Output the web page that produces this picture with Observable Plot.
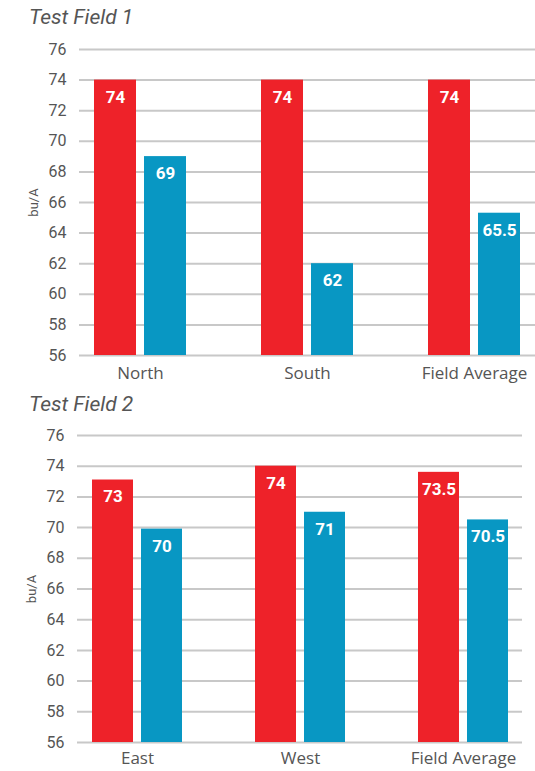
<!DOCTYPE html>
<html><head><meta charset="utf-8">
<script src="https://cdn.jsdelivr.net/npm/d3@7"></script>
<script src="https://cdn.jsdelivr.net/npm/@observablehq/plot@0.6"></script>
<style>
body{margin:0;background:#fff;font-family:Roboto,sans-serif;}
.title{font-style:italic;font-size:21px;color:#555;padding-left:29px;box-sizing:border-box;line-height:22px;}
</style></head><body>
<div class="title" style="height:38px;padding-top:6px">Test Field 1</div>
<div id="c1"></div>
<div class="title" style="height:32px;padding-top:1px">Test Field 2</div>
<div id="c2"></div>
<script>
const seriesNames = ["Series A", "Series B"];
const seriesColors = ["#EE2229", "#0897C3"];
const yTicks = [56, 58, 60, 62, 64, 66, 68, 70, 72, 74, 76];

const field1Categories = ["North", "South", "Field Average"];
const field1Red = [74, 74, 74];
const field1Blue = [69, 62, 65.3];
const field1RedLabels = ["74", "74", "74"];
const field1BlueLabels = ["69", "62", "65.5"];

const field2Categories = ["East", "West", "Field Average"];
const field2Red = [73.1, 74, 73.6];
const field2Blue = [69.9, 71, 70.5];
const field2RedLabels = ["73", "74", "73.5"];
const field2BlueLabels = ["70", "71", "70.5"];

function panel(cats, red, blue, redLabels, blueLabels, o) {
  const rows = [];
  cats.forEach((c, i) => {
    rows.push({cat: c, series: seriesNames[0], value: red[i], label: redLabels[i]});
    rows.push({cat: c, series: seriesNames[1], value: blue[i], label: blueLabels[i]});
  });
  const redRows = rows.filter(d => d.series === seriesNames[0]);
  const blueRows = rows.filter(d => d.series === seriesNames[1]);
  return Plot.plot({
    width: 535, height: o.height,
    marginTop: 11, marginBottom: o.marginBottom, marginLeft: o.marginLeft, marginRight: o.marginRight,
    style: {fontFamily: "Roboto, sans-serif", color: "#555", background: "#fff", overflow: "visible"},
    x: {domain: cats, paddingInner: 0.45, paddingOuter: o.paddingOuter},
    y: {domain: [56, 76]},
    color: {domain: seriesNames, range: seriesColors},
    marks: [
      Plot.ruleY(yTicks, {stroke: "#c8c8c8", strokeWidth: 2}),
      Plot.axisY(yTicks, {tickSize: 0, tickPadding: 13, fontSize: 16, label: null}),
      Plot.axisY([], {tickSize: 0, fontSize: 13, label: "bu/A", labelAnchor: "center", labelArrow: "none", labelOffset: 51}),
      Plot.axisX({tickSize: 0, tickPadding: o.xPad, fontSize: 17, fontFamily: "Open Sans, sans-serif", label: null}),
      Plot.barY(redRows, {x: "cat", y1: 56, y2: "value", fill: "series", insetRight: o.inset}),
      Plot.barY(blueRows, {x: "cat", y1: 56, y2: "value", fill: "series", insetLeft: o.inset}),
      Plot.text(redRows, {x: "cat", y: "value", text: "label", dx: -o.dx, dy: 17, fill: "white", fontWeight: "bold", fontSize: 17}),
      Plot.text(blueRows, {x: "cat", y: "value", text: "label", dx: o.dx, dy: 17, fill: "white", fontWeight: "bold", fontSize: 17})
    ]
  });
}

document.getElementById("c1").append(panel(field1Categories, field1Red, field1Blue, field1RedLabels, field1BlueLabels,
  {height: 354, marginBottom: 37, marginLeft: 79, marginRight: 0, paddingOuter: 0.086, inset: 50, dx: 25, xPad: 11}));
document.getElementById("c2").append(panel(field2Categories, field2Red, field2Blue, field2RedLabels, field2BlueLabels,
  {height: 347, marginBottom: 29, marginLeft: 77, marginRight: 13, paddingOuter: 0.09, inset: 49, dx: 24.5, xPad: 9}));
</script>
</body></html>
